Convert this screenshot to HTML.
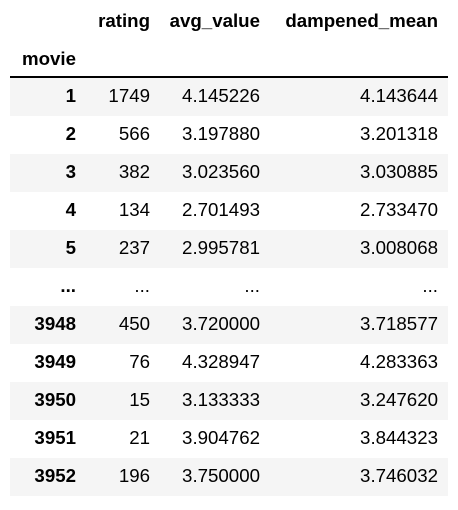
<!DOCTYPE html>
<html><head><meta charset="utf-8">
<style>
body{margin:0;background:#fff;width:458px;height:510px;overflow:hidden;font-family:"Liberation Sans",Arial,sans-serif;font-size:18.7px;color:#000;position:relative}
.t{position:absolute;white-space:nowrap;line-height:20px}
.b{font-weight:bold}
.row{position:absolute;left:10px;width:438px;height:38px}
.g{background:#f5f5f5}
.line{position:absolute;left:10px;width:438px;top:76px;height:2px;background:#000}
</style></head><body>
<div class="t b" style="right:308px;top:11px">rating</div>
<div class="t b" style="right:198px;top:11px">avg_value</div>
<div class="t b" style="right:20px;top:11px">dampened_mean</div>
<div class="t b" style="left:22px;top:49px">movie</div>
<div class="line"></div>
<div id="body"></div>
<script>
const idx=["1","2","3","4","5","...","3948","3949","3950","3951","3952"];
const rating=["1749","566","382","134","237","...","450","76","15","21","196"];
const avg=["4.145226","3.197880","3.023560","2.701493","2.995781","...","3.720000","4.328947","3.133333","3.904762","3.750000"];
const damp=["4.143644","3.201318","3.030885","2.733470","3.008068","...","3.718577","4.283363","3.247620","3.844323","3.746032"];
const body=document.getElementById('body');
idx.forEach((v,i)=>{
  const top=78+i*38;
  const r=document.createElement('div');
  r.className='row'+(i%2===0?' g':'');
  r.style.top=top+'px';
  
  
  body.appendChild(r);
  const cells=[[v,382,true,'row-index'],[rating[i],308,false,'rating-cell'],[avg[i],198,false,'avg-value-cell'],[damp[i],20,false,'dampened-mean-cell']];
  cells.forEach(c=>{
    const d=document.createElement('div');
    d.className='t'+(c[2]?' b':'');
    d.style.right=c[1]+'px';
    d.style.top=(top+8)+'px';
    d.textContent=c[0];
    
    
    body.appendChild(d);
  });
});
</script>
</body></html>
